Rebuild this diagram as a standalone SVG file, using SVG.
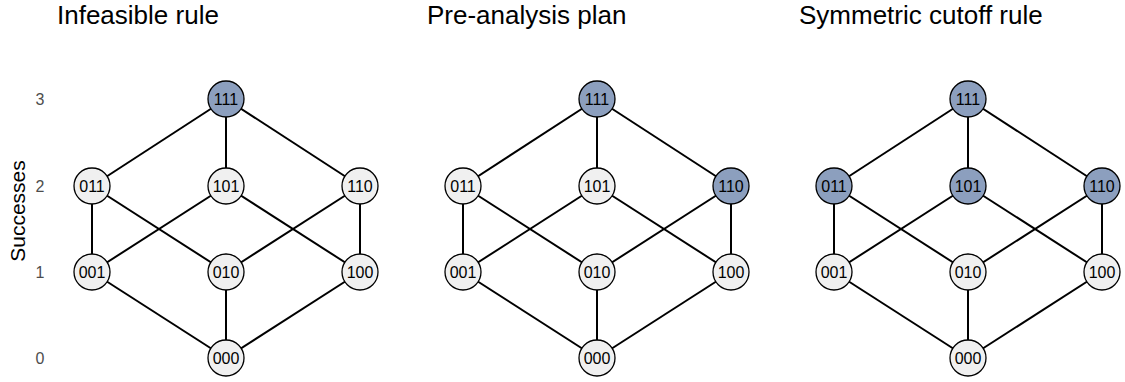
<svg xmlns="http://www.w3.org/2000/svg" width="1125" height="382" viewBox="0 0 1125 382">
<style>
.t{font-family:"Liberation Sans",Arial,sans-serif;font-size:26px;fill:#000}
.ax{font-family:"Liberation Sans",Arial,sans-serif;font-size:16px;fill:#4d4d4d;text-anchor:middle;dominant-baseline:central}
.yl{font-family:"Liberation Sans",Arial,sans-serif;font-size:21px;fill:#000;text-anchor:middle}
.e line{stroke:#000;stroke-width:2}
.n circle{stroke:#000;stroke-width:1.3}
.g{fill:#f0f0f0}
.b{fill:#8c9fbe}
.n text{font-family:"Liberation Sans",Arial,sans-serif;font-size:16px;fill:#000;text-anchor:middle;dominant-baseline:central}
</style>
<rect width="1125" height="382" fill="#fff"/>
<text class="t" x="57" y="24">Infeasible rule</text>
<text class="t" x="427" y="24">Pre-analysis plan</text>
<text class="t" x="799" y="24">Symmetric cutoff rule</text>
<g id="axis">
<text class="ax" x="40" y="99">3</text>
<text class="ax" x="40" y="186">2</text>
<text class="ax" x="40" y="272">1</text>
<text class="ax" x="40" y="358">0</text>
<text class="yl" transform="translate(25,211) rotate(-90)">Successes</text>
</g>
<defs>
<g id="edges" class="e">
<line x1="0" y1="99" x2="-134" y2="186"/>
<line x1="0" y1="99" x2="0" y2="186"/>
<line x1="0" y1="99" x2="134" y2="186"/>
<line x1="-134" y1="186" x2="-134" y2="272"/>
<line x1="-134" y1="186" x2="0" y2="272"/>
<line x1="0" y1="186" x2="-134" y2="272"/>
<line x1="0" y1="186" x2="134" y2="272"/>
<line x1="134" y1="186" x2="0" y2="272"/>
<line x1="134" y1="186" x2="134" y2="272"/>
<line x1="-134" y1="272" x2="0" y2="358"/>
<line x1="0" y1="272" x2="0" y2="358"/>
<line x1="134" y1="272" x2="0" y2="358"/>
</g>
</defs>
<g id="connectors">
<use href="#edges" x="226"/>
<use href="#edges" x="597"/>
<use href="#edges" x="968"/>
</g>
<g id="p1" class="n">
<g id="p1-111"><circle class="b" cx="226" cy="99" r="18"/><text x="226" y="99">111</text></g>
<g id="p1-011"><circle class="g" cx="92" cy="186" r="18"/><text x="92" y="186">011</text></g>
<g id="p1-101"><circle class="g" cx="226" cy="186" r="18"/><text x="226" y="186">101</text></g>
<g id="p1-110"><circle class="g" cx="360" cy="186" r="18"/><text x="360" y="186">110</text></g>
<g id="p1-001"><circle class="g" cx="92" cy="272" r="18"/><text x="92" y="272">001</text></g>
<g id="p1-010"><circle class="g" cx="226" cy="272" r="18"/><text x="226" y="272">010</text></g>
<g id="p1-100"><circle class="g" cx="360" cy="272" r="18"/><text x="360" y="272">100</text></g>
<g id="p1-000"><circle class="g" cx="226" cy="358" r="18"/><text x="226" y="358">000</text></g>
</g>
<g id="p2" class="n">
<g id="p2-111"><circle class="b" cx="597" cy="99" r="18"/><text x="597" y="99">111</text></g>
<g id="p2-011"><circle class="g" cx="463" cy="186" r="18"/><text x="463" y="186">011</text></g>
<g id="p2-101"><circle class="g" cx="597" cy="186" r="18"/><text x="597" y="186">101</text></g>
<g id="p2-110"><circle class="b" cx="731" cy="186" r="18"/><text x="731" y="186">110</text></g>
<g id="p2-001"><circle class="g" cx="463" cy="272" r="18"/><text x="463" y="272">001</text></g>
<g id="p2-010"><circle class="g" cx="597" cy="272" r="18"/><text x="597" y="272">010</text></g>
<g id="p2-100"><circle class="g" cx="731" cy="272" r="18"/><text x="731" y="272">100</text></g>
<g id="p2-000"><circle class="g" cx="597" cy="358" r="18"/><text x="597" y="358">000</text></g>
</g>
<g id="p3" class="n">
<g id="p3-111"><circle class="b" cx="968" cy="99" r="18"/><text x="968" y="99">111</text></g>
<g id="p3-011"><circle class="b" cx="834" cy="186" r="18"/><text x="834" y="186">011</text></g>
<g id="p3-101"><circle class="b" cx="968" cy="186" r="18"/><text x="968" y="186">101</text></g>
<g id="p3-110"><circle class="b" cx="1102" cy="186" r="18"/><text x="1102" y="186">110</text></g>
<g id="p3-001"><circle class="g" cx="834" cy="272" r="18"/><text x="834" y="272">001</text></g>
<g id="p3-010"><circle class="g" cx="968" cy="272" r="18"/><text x="968" y="272">010</text></g>
<g id="p3-100"><circle class="g" cx="1102" cy="272" r="18"/><text x="1102" y="272">100</text></g>
<g id="p3-000"><circle class="g" cx="968" cy="358" r="18"/><text x="968" y="358">000</text></g>
</g>
</svg>
